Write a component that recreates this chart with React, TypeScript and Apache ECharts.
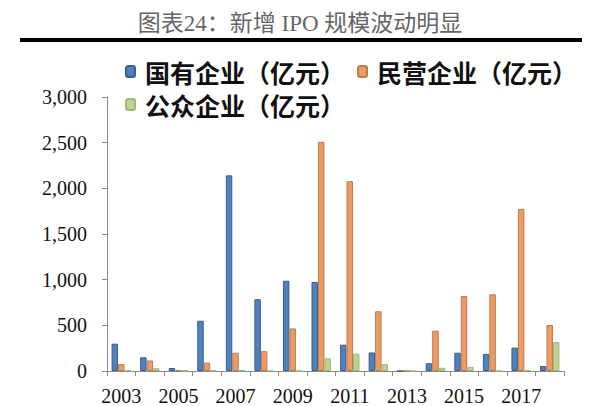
import React, { useEffect, useRef } from "react";
import * as echarts from "echarts";

const years = ["2003","2004","2005","2006","2007","2008","2009","2010","2011","2012","2013","2014","2015","2016","2017","2018"];
const stateOwned = [299, 150, 33, 550, 2142, 786, 988, 975, 288, 203, 0, 85, 200, 187, 256, 55];
const privateOwned = [75, 115, 10, 92, 200, 217, 466, 2510, 2078, 654, 0, 441, 822, 840, 1775, 503];
const publicOwned = [5, 30, 5, 5, 10, 0, 0, 139, 190, 75, 0, 35, 45, 0, 8, 317];
const seriesNames = ["国有企业（亿元）", "民营企业（亿元）", "公众企业（亿元）"];
const titleText = "图表24：新增 IPO 规模波动明显";

export default function App() {
  const ref = useRef<HTMLDivElement>(null);
  useEffect(() => {
    if (!ref.current) return;
    const chart = echarts.init(ref.current, null, { renderer: "svg" });
    const legendText = {
      fontSize: 25,
      fontWeight: "bold" as const,
      fontFamily: "Noto Sans CJK SC",
      color: "#111",
      padding: [0, 0, 0, 5],
    };
    const mkBar = (name: string, data: number[], color: string, border: string) => ({
      name,
      type: "bar",
      data,
      barGap: "0%",
      barCategoryGap: "32%",
      itemStyle: { color, borderColor: border, borderWidth: 1 },
    });
    chart.setOption({
      animation: false,
      backgroundColor: "#ffffff",
      title: {
        text: titleText,
        left: "center",
        top: 7,
        textStyle: {
          fontSize: 23,
          fontWeight: "normal",
          color: "#666",
          fontFamily: "Liberation Serif, Noto Sans CJK SC",
        },
      },
      graphic: [
        {
          type: "rect",
          shape: { x: 20, y: 38, width: 562, height: 4 },
          style: { fill: "#000" },
        },
      ],
      legend: [
        {
          data: [seriesNames[0], seriesNames[1]],
          left: 120,
          top: 54,
          itemWidth: 9,
          itemHeight: 11,
          itemGap: 12,
          textStyle: legendText,
        },
        {
          data: [seriesNames[2]],
          left: 120,
          top: 87,
          itemWidth: 9,
          itemHeight: 11,
          textStyle: legendText,
        },
      ],
      grid: { left: 107, right: 36, top: 97, bottom: 28, containLabel: false },
      xAxis: {
        type: "category",
        data: years,
        axisLine: { lineStyle: { color: "#8a8a8a", width: 1 } },
        axisTick: { show: true, interval: 0, length: 5, lineStyle: { color: "#8a8a8a" } },
        axisLabel: {
          interval: 1,
          margin: 15,
          fontSize: 20,
          fontFamily: "Liberation Serif",
          color: "#111",
        },
      },
      yAxis: {
        type: "value",
        min: 0,
        max: 3000,
        interval: 500,
        axisLine: { show: true, lineStyle: { color: "#8a8a8a", width: 1 } },
        axisTick: { show: true, length: 5, lineStyle: { color: "#8a8a8a" } },
        splitLine: { show: false },
        axisLabel: {
          margin: 20,
          fontSize: 20,
          fontFamily: "Liberation Serif",
          color: "#111",
          formatter: (v: number) => v.toLocaleString("en-US"),
        },
      },
      series: [
        mkBar(seriesNames[0], stateOwned, "#4f81bd", "#3a5f8c"),
        mkBar(seriesNames[1], privateOwned, "#ee9a62", "#b97d52"),
        mkBar(seriesNames[2], publicOwned, "#bcd491", "#9fb877"),
      ],
    });
    return () => chart.dispose();
  }, []);
  return (
    <div
      ref={ref}
      style={{
        position: "fixed",
        left: 0,
        top: 0,
        width: 600,
        height: 406,
        overflow: "hidden",
      }}
    />
  );
}
